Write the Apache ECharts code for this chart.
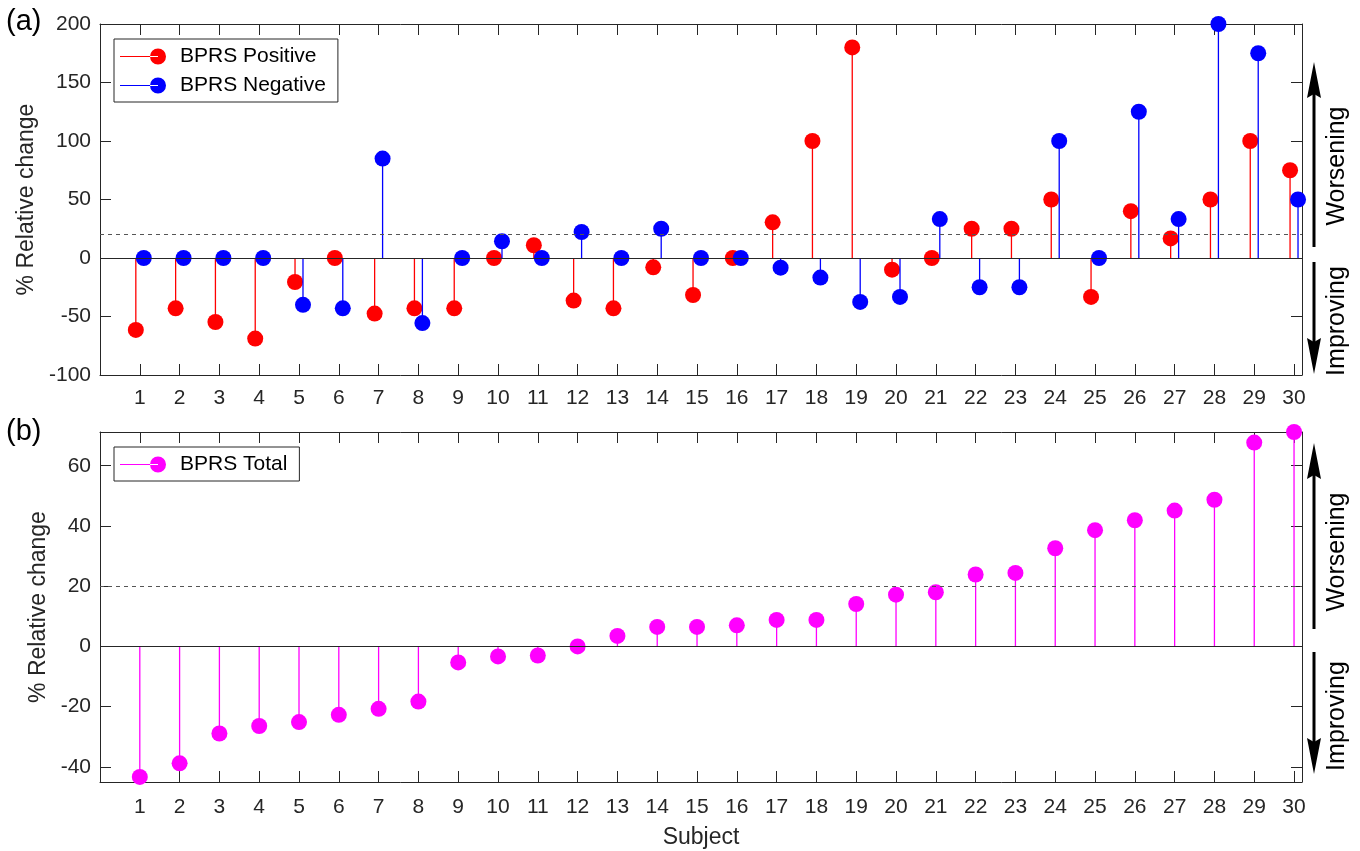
<!DOCTYPE html>
<html>
<head>
<meta charset="utf-8">
<title>BPRS relative change</title>
<script src="https://cdn.jsdelivr.net/npm/echarts@6/dist/echarts.min.js"></script>
<style>
  html, body { margin: 0; padding: 0; background: #fff; }
  #chart { width: 1360px; height: 851px; }
</style>
</head>
<body>
<div id="chart"></div>
<script>
// subjects on the x axis
var subjects = [1, 2, 3, 4, 5, 6, 7, 8, 9, 10, 11, 12, 13, 14, 15,
  16, 17, 18, 19, 20, 21, 22, 23, 24, 25, 26, 27, 28, 29, 30]

// panel (a)
var bprsPositive = [-61.5, -43, -54.7, -68.9, -20.5, 0, -47.5, -43, -43, 0,
  10.9, -36.4, -43, -8, -31.6, 0, 30.5, 100, 180, -10,
  0, 25, 25, 50, -33.3, 40, 16.7, 50, 100, 75]
var bprsNegative = [0, 0, 0, 0, -40, -43, 85, -55.6, 0, 14.3,
  0, 22.2, 0, 25, 0, 0, -8.3, -16.7, -37.5, -33.3,
  33.3, -25, -25, 100, 0, 125, 33.3, 200, 175, 50]

// panel (b)
var bprsTotal = [-43.3, -38.8, -28.9, -26.4, -25.1, -22.7, -20.7, -18.3, -5.3, -3.3,
  -3.0, 0, 3.5, 6.5, 6.5, 7.0, 8.8, 8.8, 14.1, 17.2,
  18.0, 23.9, 24.4, 32.6, 38.6, 41.9, 45.1, 48.7, 67.7, 71.2]

var topTicks = [-100, -50, 0, 50, 100, 150, 200]
var bottomTicks = [-40, -20, 0, 20, 40, 60]
var threshold = 20

var FONT = '"Liberation Sans", Arial, Helvetica, sans-serif'
var INK = '#262626'

function pairs(values) {
  return subjects.map(function (s, i) { return [s, values[i]] })
}

// stem: thin line from the baseline plus a filled circle
function stem(offset, color) {
  return function (params, api) {
    var x = api.value(0) + offset
    var p = api.coord([x, api.value(1)])
    var b = api.coord([x, 0])
    return {
      type: 'group',
      children: [
        { type: 'line', shape: { x1: b[0], y1: b[1], x2: p[0], y2: p[1] }, style: { stroke: color, lineWidth: 1.3 } },
        { type: 'circle', shape: { cx: p[0], cy: p[1], r: 8 }, style: { fill: color } }
      ]
    }
  }
}

function refLines(xi, yi) {
  return {
    type: 'line',
    xAxisIndex: xi,
    yAxisIndex: yi,
    data: [],
    z: 1,
    silent: true,
    markLine: {
      silent: true,
      symbol: 'none',
      label: { show: false },
      data: [
        { yAxis: threshold, lineStyle: { type: [4, 4], color: '#555', width: 1 } },
        { yAxis: 0, lineStyle: { type: 'solid', color: INK, width: 1.2 } }
      ]
    }
  }
}

function xAxisPair(gi, labelMargin) {
  var base = {
    type: 'value', gridIndex: gi, min: 0, max: 30.2, interval: 1,
    axisLine: { onZero: false, lineStyle: { color: INK, width: 1 } },
    axisTick: { inside: true, length: 11, lineStyle: { color: INK } },
    splitLine: { show: false }
  }
  var bottom = Object.assign({}, base, {
    position: 'bottom',
    axisLabel: {
      color: INK, fontSize: 21, fontFamily: FONT, margin: labelMargin,
      showMinLabel: false, showMaxLabel: false,
      formatter: function (v) { return v % 1 === 0 ? String(v) : '' }
    }
  })
  if (gi === 1) {
    bottom.name = 'Subject'
    bottom.nameLocation = 'middle'
    bottom.nameGap = 44
    bottom.nameTextStyle = { color: INK, fontSize: 23, fontFamily: FONT }
  }
  var top = Object.assign({}, base, { position: 'top', axisLabel: { show: false } })
  return [bottom, top]
}

function yAxisPair(gi, min, max, ticks, gap) {
  var base = {
    type: 'value', gridIndex: gi, min: min, max: max,
    axisLine: { show: true, onZero: false, lineStyle: { color: INK, width: 1 } },
    axisTick: { inside: true, length: 11, lineStyle: { color: INK }, customValues: ticks },
    splitLine: { show: false }
  }
  var left = Object.assign({}, base, {
    position: 'left',
    name: '% Relative change',
    nameLocation: 'middle',
    nameGap: gap,
    nameTextStyle: { color: INK, fontSize: 23, fontFamily: FONT },
    axisLabel: { color: INK, fontSize: 21, fontFamily: FONT, margin: 9, customValues: ticks }
  })
  var right = Object.assign({}, base, { position: 'right', axisLabel: { show: false } })
  return [left, right]
}

function arrow(x, tail, tip) {
  var dir = tip < tail ? 1 : -1
  var headBase = tip + dir * 36
  var notch = tip + dir * 32
  return [
    { type: 'line', shape: { x1: x, y1: tail, x2: x, y2: notch }, style: { stroke: '#000', lineWidth: 3 } },
    { type: 'polygon', shape: { points: [[x, tip], [x - 7, headBase], [x, notch], [x + 7, headBase]] }, style: { fill: '#000' } }
  ]
}

function sideText(txt, y) {
  return {
    type: 'text', x: 1337, y: y, rotation: Math.PI / 2,
    style: { text: txt, font: '25px ' + FONT, fill: '#000', align: 'center', verticalAlign: 'middle' }
  }
}

function legendIcon() {
  return 'path://M0,7.4H38V8.6H0Z M30,8a8,8 0 1,0 16,0a8,8 0 1,0 -16,0Z'
}

var chart = echarts.init(document.getElementById('chart'))

var xs0 = xAxisPair(0, 13)
var xs1 = xAxisPair(1, 15)
var ys0 = yAxisPair(0, -100, 200, topTicks, 53)
var ys1 = yAxisPair(1, -45, 71.2, bottomTicks, 42)

var legendBase = {
  orient: 'vertical',
  left: 114,
  itemWidth: 46,
  itemHeight: 16,
  itemGap: 8,
  padding: [7, 12, 6, 6],
  borderColor: INK,
  borderWidth: 1,
  backgroundColor: '#fff',
  selectedMode: false,
  textStyle: { color: '#000', fontSize: 21, fontFamily: FONT, padding: [0, 0, 0, 9] }
}

chart.setOption({
  animation: false,
  backgroundColor: '#fff',
  grid: [
    { left: 100, right: 58, top: 24, height: 351 },
    { left: 100, right: 58, top: 432, height: 350 }
  ],
  xAxis: [xs0[0], xs0[1], xs1[0], xs1[1]],
  yAxis: [ys0[0], ys0[1], ys1[0], ys1[1]],
  legend: [
    Object.assign({}, legendBase, {
      top: 39,
      data: [
        { name: 'BPRS Positive', icon: legendIcon() },
        { name: 'BPRS Negative', icon: legendIcon() }
      ]
    }),
    Object.assign({}, legendBase, {
      top: 447,
      data: [{ name: 'BPRS Total', icon: legendIcon() }]
    })
  ],
  series: [
    refLines(0, 0),
    refLines(2, 2),
    {
      name: 'BPRS Positive', type: 'custom', xAxisIndex: 0, yAxisIndex: 0, z: 3,
      itemStyle: { color: '#ff0000' },
      renderItem: stem(-0.1, '#ff0000'),
      data: pairs(bprsPositive)
    },
    {
      name: 'BPRS Negative', type: 'custom', xAxisIndex: 0, yAxisIndex: 0, z: 4,
      itemStyle: { color: '#0000ff' },
      renderItem: stem(0.1, '#0000ff'),
      data: pairs(bprsNegative)
    },
    {
      name: 'BPRS Total', type: 'custom', xAxisIndex: 2, yAxisIndex: 2, z: 3,
      itemStyle: { color: '#ff00ff' },
      renderItem: stem(0, '#ff00ff'),
      data: pairs(bprsTotal)
    }
  ],
  graphic: [
    { type: 'text', x: 6, y: 22, style: { text: '(a)', font: '29px ' + FONT, fill: '#000', verticalAlign: 'middle' } },
    { type: 'text', x: 6, y: 432, style: { text: '(b)', font: '29px ' + FONT, fill: '#000', verticalAlign: 'middle' } }
  ]
    .concat(arrow(1314, 247, 62))
    .concat(arrow(1314, 262, 374))
    .concat(arrow(1314, 629, 443))
    .concat(arrow(1314, 652, 774))
    .concat([
      sideText('Worsening', 166),
      sideText('Improving', 321),
      sideText('Worsening', 552),
      sideText('Improving', 716)
    ])
})
</script>
</body>
</html>
